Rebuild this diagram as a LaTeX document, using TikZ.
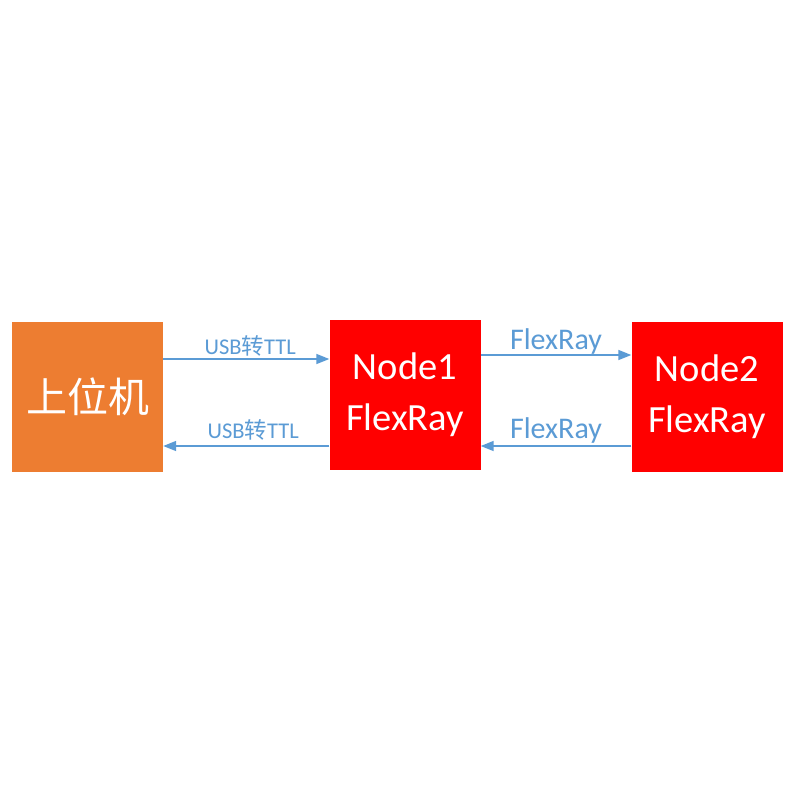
\documentclass[tikz,border=0pt]{standalone}
\usepackage{fontspec}
\setmainfont{Carlito}
\newfontfamily\cjk{Noto Sans CJK SC}
\usetikzlibrary{arrows.meta}
\definecolor{pcorange}{HTML}{ED7D31}
\definecolor{nodered}{HTML}{FF0000}
\definecolor{linkblue}{HTML}{5B9BD5}
\tikzset{
    box/.style={rectangle, inner sep=0mm, minimum width=151pt, minimum height=150pt,
        text=white, align=center, font=\fontsize{38.5}{51}\selectfont}
}
\tikzset{link/.style={draw=linkblue, line width=1.5pt, -{Triangle[length=13pt, width=10pt]}}}
\tikzset{linklabel/.style={text=linkblue, inner sep=0mm, anchor=base}}

\begin{document}
\begin{tikzpicture}[x=1pt, y=-1pt]
        \useasboundingbox[fill=white] (0,0) rectangle (800,800);
        \node (pc) [box, fill=pcorange, font=\cjk\fontsize{41}{48}\selectfont] at (87.5,397) {上位机};
        \node (n1) [box, fill=nodered] at (405,395) {Node1\\FlexRay};
        \node (n2) [box, fill=nodered] at (707,397) {Node2\\FlexRay};
        % host <-> node1
        \draw [link] ([yshift=38pt]pc.east) -- ([yshift=36pt]n1.west)
                node [linklabel, midway, yshift=5pt, xshift=4pt, font=\fontsize{22.5}{24}\selectfont] {USB{\cjk 转}TTL};
        \draw [link] ([yshift=-51pt]n1.west) -- ([yshift=-49pt]pc.east)
                node [linklabel, midway, yshift=8pt, xshift=7pt, font=\fontsize{22.5}{24}\selectfont] {USB{\cjk 转}TTL};
        % node1 <-> node2
        \draw [link] ([yshift=40pt]n1.east) -- ([yshift=42pt]n2.west)
                node [linklabel, midway, yshift=6pt, font=\fontsize{30}{32}\selectfont] {FlexRay};
        \draw [link] ([yshift=-49pt]n2.west) -- ([yshift=-51pt]n1.east)
                node [linklabel, midway, yshift=8pt, font=\fontsize{30}{32}\selectfont] {FlexRay};
\end{tikzpicture}
\end{document}
